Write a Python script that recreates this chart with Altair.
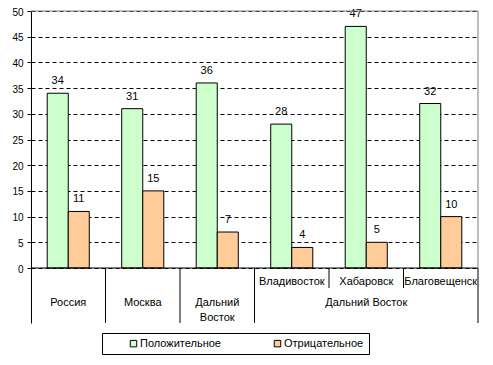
import altair as alt
import pandas as pd

categories = ["Россия", "Москва", "Дальний Восток", "Владивосток", "Хабаровск", "Благовещенск"]
positive = [34, 31, 36, 28, 47, 32]
negative = [11, 15, 7, 4, 5, 10]
series_names = ["Положительное", "Отрицательное"]
series_colors = ["#CCFFCC", "#FFCC99"]
y_ticks = list(range(0, 51, 5))
Y_MIN = -10.7

cat_labels = ["Россия", "Москва", "Дальний\nВосток", "Владивосток", "Хабаровск", "Благовещенск"]
cat_label_y = [-6.8, -6.8, -6.8, -2.75, -2.75, -2.75]
group_label = "Дальний Восток"
group_center_cat = "Хабаровск"
group_label_y = -6.8

full_div_cats = ["Москва", "Дальний Восток", "Владивосток"]
short_div_cats = ["Хабаровск", "Благовещенск"]
SHORT_BOTTOM = -3.9

FONT = "Liberation Sans"

rows = []
for c, p, n in zip(categories, positive, negative):
    rows.append({"cat": c, "series": series_names[0], "value": p})
    rows.append({"cat": c, "series": series_names[1], "value": n})
bars_df = pd.DataFrame(rows)

xscale = alt.Scale(domain=categories, paddingInner=0, paddingOuter=0)
xoff_scale = alt.Scale(domain=series_names, paddingInner=0, paddingOuter=0.77)
color_scale = alt.Scale(domain=series_names, range=series_colors)
yscale = alt.Scale(domain=[Y_MIN, 50], nice=False, zero=False)

y_axis = alt.Axis(values=y_ticks, grid=True, gridDash=[4, 3], gridColor="black",
                  gridOpacity=1, domainColor="black", tickColor="black", tickSize=4,
                  labelFont=FONT, labelFontSize=10, labelColor="black",
                  labelPadding=4, labelOffset=1, labelOverlap=False, title=None)


def Y(field):
    return alt.Y(field, scale=yscale, axis=y_axis, title=None)


X = alt.X("cat:N", scale=xscale, sort=categories, axis=None)

base = alt.Chart(bars_df)

bars = base.mark_bar(stroke="black", strokeWidth=1).encode(
    x=X,
    xOffset=alt.XOffset("series:N", scale=xoff_scale, sort=series_names),
    y=Y("value:Q"),
    y2=alt.datum(0),
    color=alt.Color("series:N", scale=color_scale, sort=series_names,
                    legend=alt.Legend(title=None, orient="none", legendX=71, legendY=322,
                                      direction="horizontal", strokeColor="black", padding=5,
                                      symbolType="square", symbolSize=42,
                                      symbolStrokeColor="black", symbolStrokeWidth=1,
                                      labelFont=FONT, labelFontSize=11, labelColor="black",
                                      symbolOffset=21, labelOffset=1, columnPadding=30)),
)

value_labels = base.mark_text(font=FONT, fontSize=11, baseline="middle", dy=-12,
                              color="black").encode(
    x=X,
    xOffset=alt.XOffset("series:N", scale=xoff_scale, sort=series_names),
    y=Y("value:Q"),
    text="value:Q",
)

div_df = pd.DataFrame(
    [{"cat": c, "y": Y_MIN, "y2": 0} for c in full_div_cats]
    + [{"cat": c, "y": SHORT_BOTTOM, "y2": 0} for c in short_div_cats]
)
dividers = alt.Chart(div_df).mark_rule(color="black", strokeWidth=1).encode(
    x=alt.X("cat:N", scale=xscale, sort=categories, axis=None, bandPosition=0),
    y=Y("y:Q"),
    y2="y2:Q",
)

edge_df = pd.DataFrame([
    {"cat": categories[-1], "y": Y_MIN, "y2": 0, "c": "black"},
    {"cat": categories[-1], "y": 0, "y2": 50, "c": "#808080"},
])
right_edge = alt.Chart(edge_df).mark_rule(strokeWidth=1).encode(
    x=alt.X("cat:N", scale=xscale, sort=categories, axis=None, bandPosition=1),
    y=Y("y:Q"),
    y2="y2:Q",
    color=alt.Color("c:N", scale=None),
)

top_border = alt.Chart(pd.DataFrame({"y": [50]})).mark_rule(color="#808080", strokeWidth=1).encode(
    y=Y("y:Q")
)
baseline = alt.Chart(pd.DataFrame({"y": [0]})).mark_rule(color="black", strokeWidth=1).encode(
    y=Y("y:Q")
)

lab_df = pd.DataFrame({"cat": categories, "label": cat_labels, "y": cat_label_y})
lab_df = pd.concat([lab_df, pd.DataFrame({"cat": [group_center_cat], "label": [group_label],
                                          "y": [group_label_y]})], ignore_index=True)
cat_text = alt.Chart(lab_df).mark_text(font=FONT, fontSize=11, color="black", baseline="middle",
                                       lineBreak="\n", lineHeight=15).encode(
    x=X,
    y=Y("y:Q"),
    text="label:N",
)

chart = alt.layer(bars, value_labels, top_border, baseline, dividers, right_edge, cat_text).properties(
    width=447, height=312,
    padding={"left": 23, "top": 3, "right": 5, "bottom": 32},
    autosize=alt.AutoSizeParams(type="none"),
    background="white",
).configure_view(stroke=None)

chart.save("out.html", embed_options={"renderer": "svg", "actions": False})
